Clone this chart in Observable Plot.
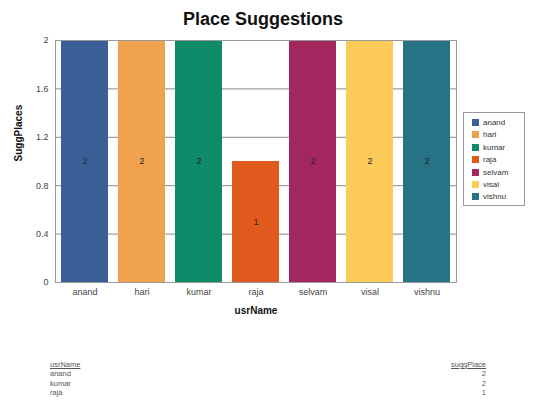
<!DOCTYPE html>
<html>
<head>
<meta charset="utf-8">
<script src="https://cdn.jsdelivr.net/npm/d3@7"></script>
<script src="https://cdn.jsdelivr.net/npm/@observablehq/plot@0.6"></script>
<style>
  html, body { margin: 0; padding: 0; background: #fff; }
  #wrap { position: relative; width: 537px; height: 403px; font-family: "Liberation Sans", Arial, sans-serif; overflow: hidden; }
  #wrap svg { position: absolute; left: 0; top: 0; }
  .title { position: absolute; left: 0; width: 526px; top: 9px; text-align: center; font-size: 18px; font-weight: bold; color: #111; }
  .legend { position: absolute; left: 463px; top: 112px; width: 62px; height: 94px; border: 1px solid #999; box-sizing: border-box; padding: 4px 0 0 8px; }
  .legend div { font-size: 8px; line-height: 12.4px; color: #333; white-space: nowrap; }
  .legend span { display: inline-block; width: 7px; height: 7px; margin-right: 4px; vertical-align: -1px; }
  .tbl { position: absolute; left: 50px; top: 360px; width: 436px; font-size: 7.5px; color: #555; border-collapse: collapse; }
  .tbl td, .tbl th { padding: 0; line-height: 9.3px; font-weight: normal; }
  .tbl th { text-decoration: underline; text-align: left; }
  .tbl .r { text-align: right; }
</style>
</head>
<body>
<div id="wrap"></div>
<script>
// Suggested places per user
const users = ["anand", "hari", "kumar", "raja", "selvam", "visal", "vishnu"];
const suggPlaces = [2, 2, 2, 1, 2, 2, 2];
const colors = ["#3A5E96", "#F0A24E", "#0E8C6A", "#E05A1E", "#A2275F", "#FCCB5A", "#277385"];
const yTicks = [0, 0.4, 0.8, 1.2, 1.6, 2];

// Rows listed in the summary table below the chart
const tableUsers = ["anand", "kumar", "raja"];
const tablePlaces = [2, 2, 1];

const data = users.map((u, i) => ({usrName: u, suggPlaces: suggPlaces[i]}));

const chart = Plot.plot({
  width: 537,
  height: 403,
  marginLeft: 55,
  marginRight: 81,
  marginTop: 40,
  marginBottom: 121,
  style: {fontFamily: "Liberation Sans, Arial, sans-serif", background: "transparent"},
  x: {domain: users, paddingInner: 0.18, paddingOuter: 0.09, label: null, tickSize: 0, tickPadding: 6},
  y: {domain: [0, 2], ticks: yTicks, tickFormat: d => String(d), label: null, tickSize: 0, tickPadding: 7},
  color: {domain: users, range: colors},
  marks: [
    Plot.gridY(yTicks, {stroke: "#888", strokeOpacity: 1, strokeWidth: 1}),
    Plot.barY(data, {x: "usrName", y: "suggPlaces", fill: "usrName"}),
    Plot.text(data, {x: "usrName", y: d => d.suggPlaces / 2, text: d => String(d.suggPlaces), fill: "#222", fontSize: 9}),
    Plot.frame({stroke: "#999"}),
    Plot.axisX({tickSize: 0, tickPadding: 6, fontSize: 9, color: "#444", label: null}),
    Plot.axisY({ticks: yTicks, tickSize: 0, tickPadding: 7, fontSize: 9, color: "#444", label: null, tickFormat: d => String(d)}),
    Plot.text(["usrName"], {frameAnchor: "bottom", dy: 31, fontWeight: "bold", fontSize: 10, fill: "#111"}),
    Plot.text(["SuggPlaces"], {frameAnchor: "left", dx: -37, rotate: -90, fontWeight: "bold", fontSize: 10, fill: "#111"})
  ]
});

const wrap = document.getElementById("wrap");
wrap.appendChild(chart);

const title = document.createElement("div");
title.className = "title";
title.textContent = "Place Suggestions";
wrap.appendChild(title);

const legend = document.createElement("div");
legend.className = "legend";
users.forEach((u, i) => {
  const row = document.createElement("div");
  const sw = document.createElement("span");
  sw.style.background = colors[i];
  row.appendChild(sw);
  row.appendChild(document.createTextNode(u));
  legend.appendChild(row);
});
wrap.appendChild(legend);

const tbl = document.createElement("table");
tbl.className = "tbl";
let html = "<tr><th>usrName</th><th class='r'>suggPlace</th></tr>";
tableUsers.forEach((u, i) => {
  html += `<tr><td>${u}</td><td class='r'>${tablePlaces[i]}</td></tr>`;
});
tbl.innerHTML = html;
wrap.appendChild(tbl);
</script>
</body>
</html>
